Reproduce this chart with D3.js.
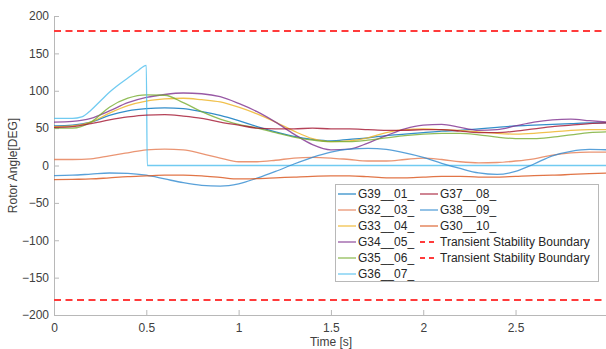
<!DOCTYPE html>
<head>
  <meta charset="UTF-8" />
  <title>Rotor Angle</title>
  <style>
    body { margin: 0; background: #fff; }
    svg { display: block; font-family: "Liberation Sans", Arial, sans-serif; }
  </style>
</head>
<body>
  <svg width="606" height="349"></svg>
</body>

<script src="https://cdn.jsdelivr.net/npm/d3@7"></script>
<script>
  // time axis shared by most generators
  const time = [0, 0.1, 0.2, 0.3, 0.4, 0.5, 0.6, 0.7, 0.8, 0.9, 1.0, 1.1, 1.2, 1.3, 1.4, 1.5,
    1.6, 1.7, 1.8, 1.9, 2.0, 2.1, 2.2, 2.3, 2.4, 2.5, 2.6, 2.7, 2.8, 2.9, 3.0];

  const g39 = [53, 54, 58, 67, 73, 76, 77, 76, 72, 67, 60, 52, 45, 39, 35, 33, 35, 37, 40, 42, 44, 46, 47, 49, 51, 53, 54, 55, 56, 57, 57];
  const g32 = [8, 8, 9, 13, 17, 21, 22, 21, 16, 10, 5, 5, 7, 10, 11, 10, 8, 6, 6, 8, 10, 8, 5, 3.5, 4, 6, 9, 14, 17, 18, 18];
  const g33 = [52, 53, 58, 70, 80, 86, 89, 90, 88, 85, 78, 69, 58, 46, 36, 32, 33, 37, 44, 48, 49, 48, 47, 45, 43, 42, 43, 45, 47, 48, 48];
  const g34 = [58, 59, 63, 73, 84, 91, 95, 97, 96, 92, 83, 72, 58, 42, 28, 21, 22, 30, 40, 49, 54, 55, 51, 47, 48, 53, 58, 61, 62, 60, 58];
  const g35 = [50, 50, 58, 78, 90, 94.5, 94, 84, 72, 62, 55, 50, 44, 38, 34, 32, 32, 34, 37, 40, 42, 43, 43, 41, 38, 36, 36, 38, 41, 44, 45];
  const g37 = [51, 52, 56, 61, 65, 67.5, 68, 66, 63, 58, 54, 50, 49, 49, 50, 49, 49, 48, 47, 47, 48, 48, 46, 44, 44, 46, 49, 52, 54, 56, 57];
  const g38 = [-13.5, -13, -11.5, -10, -10.5, -13, -18, -23, -26.5, -27.5, -24.5, -17, -8, 2, 11, 18, 22, 23, 21.5, 17, 11, 3, -4, -10, -12, -8, 2, 13, 19, 21.5, 21];
  const g30 = [-19, -18.5, -18, -16.5, -15, -14, -13, -13, -14, -16, -18, -17.5, -16.5, -15.5, -14.5, -14, -14, -15, -16.5, -16.5, -15.5, -14.5, -14.5, -15.5, -15.5, -14.5, -13.5, -13, -12, -11, -10];

  // G36 loses synchronism and is tripped at about 0.5 s
  const time36 = [0, 0.1, 0.15, 0.2, 0.25, 0.3, 0.35, 0.4, 0.45, 0.5, 0.505, 3.0];
  const g36 = [63, 63, 65, 74, 86, 98, 108, 117, 126, 134, 0, 0];

  const boundary = [180, -180];

  const xTicks = [0, 0.5, 1, 1.5, 2, 2.5];
  const yTicks = [-200, -150, -100, -50, 0, 50, 100, 150, 200];

  const series = [
    { name: "G39__01_", t: time, v: g39, color: "#0072BD" },
    { name: "G32__03_", t: time, v: g32, color: "#E57A50" },
    { name: "G33__04_", t: time, v: g33, color: "#EDB120" },
    { name: "G34__05_", t: time, v: g34, color: "#7E2F8E" },
    { name: "G35__06_", t: time, v: g35, color: "#77AC30" },
    { name: "G36__07_", t: time36, v: g36, color: "#4DBEEE" },
    { name: "G37__08_", t: time, v: g37, color: "#A2142F" },
    { name: "G38__09_", t: time, v: g38, color: "#2F8AD0" },
    { name: "G30__10_", t: time, v: g30, color: "#D95319" }
  ];

  const svg = d3.select("svg");
  const mLeft = 54, mRight = 606, mTop = 16, mBottom = 315;

  const x = d3.scaleLinear().domain([0, 2.99]).range([mLeft, mRight]);
  const y = d3.scaleLinear().domain([-200, 200]).range([mBottom, mTop]);

  svg.append("clipPath").attr("id", "plot")
    .append("rect").attr("x", mLeft).attr("y", mTop - 2)
    .attr("width", mRight - mLeft).attr("height", mBottom - mTop + 4);

  // axes (MATLAB style, ticks inside)
  const axisColor = "#b8b8b8";
  const textColor = "#404040";

  const xAxis = svg.append("g")
    .attr("transform", `translate(0,${mBottom})`)
    .call(d3.axisBottom(x).tickValues(xTicks).tickSizeInner(-5).tickSizeOuter(0)
      .tickFormat(d3.format("")));
  const yAxis = svg.append("g")
    .attr("transform", `translate(${mLeft},0)`)
    .call(d3.axisLeft(y).tickValues(yTicks).tickSizeInner(-5).tickSizeOuter(0));

  [xAxis, yAxis].forEach(a => {
    a.select(".domain").attr("stroke", axisColor);
    a.selectAll(".tick line").attr("stroke", axisColor);
    a.selectAll(".tick text").attr("fill", textColor)
      .attr("font-size", "12px").attr("font-family", "Liberation Sans, Arial");
  });
  xAxis.selectAll(".tick text").attr("y", 8).attr("dy", "0.71em");
  yAxis.selectAll(".tick text").attr("x", -5);

  svg.append("text")
    .attr("x", 331).attr("y", 346)
    .attr("text-anchor", "middle").attr("font-size", "12px").attr("fill", textColor)
    .text("Time [s]");

  svg.append("text")
    .attr("transform", `translate(17,${(mTop + mBottom) / 2}) rotate(-90)`)
    .attr("text-anchor", "middle").attr("font-size", "12px").attr("fill", textColor)
    .text("Rotor Angle[DEG]");

  const plot = svg.append("g").attr("clip-path", "url(#plot)");

  const line = d3.line().curve(d3.curveMonotoneX);

  series.forEach(s => {
    plot.append("path")
      .attr("d", line(s.t.map((t, i) => [x(t), y(s.v[i])])))
      .attr("fill", "none")
      .attr("stroke", s.color)
      .attr("stroke-width", 1.3)
      .attr("stroke-opacity", 0.8);
  });

  boundary.forEach(b => {
    plot.append("line")
      .attr("x1", x(0)).attr("x2", mRight)
      .attr("y1", y(b)).attr("y2", y(b))
      .attr("stroke", "#FF3B3B")
      .attr("stroke-width", 2)
      .attr("stroke-dasharray", "7,4.5");
  });

  // legend
  const lg = svg.append("g");
  lg.append("rect")
    .attr("x", 335.5).attr("y", 184.5).attr("width", 263).attr("height", 97)
    .attr("fill", "#fff").attr("stroke", "#b8b8b8");

  const legendItems = series.map(s => ({ name: s.name, color: s.color, dash: null }))
    .concat(boundary.map(() => ({ name: "Transient Stability Boundary", color: "#FF3B3B", dash: "5,4" })));

  legendItems.forEach((d, i) => {
    const col = i < 6 ? 0 : 1;
    const row = i < 6 ? i : i - 6;
    const lx = col === 0 ? 338 : 420;
    const ly = 194 + row * 16;
    lg.append("line")
      .attr("x1", lx).attr("x2", lx + 18).attr("y1", ly).attr("y2", ly)
      .attr("stroke", d.color)
      .attr("stroke-width", d.dash ? 2 : 1.3)
      .attr("stroke-opacity", d.dash ? 1 : 0.8)
      .attr("stroke-dasharray", d.dash);
    lg.append("text")
      .attr("x", lx + 20).attr("y", ly + 4)
      .attr("font-size", "12px").attr("fill", "#262626")
      .text(d.name);
  });
</script>
